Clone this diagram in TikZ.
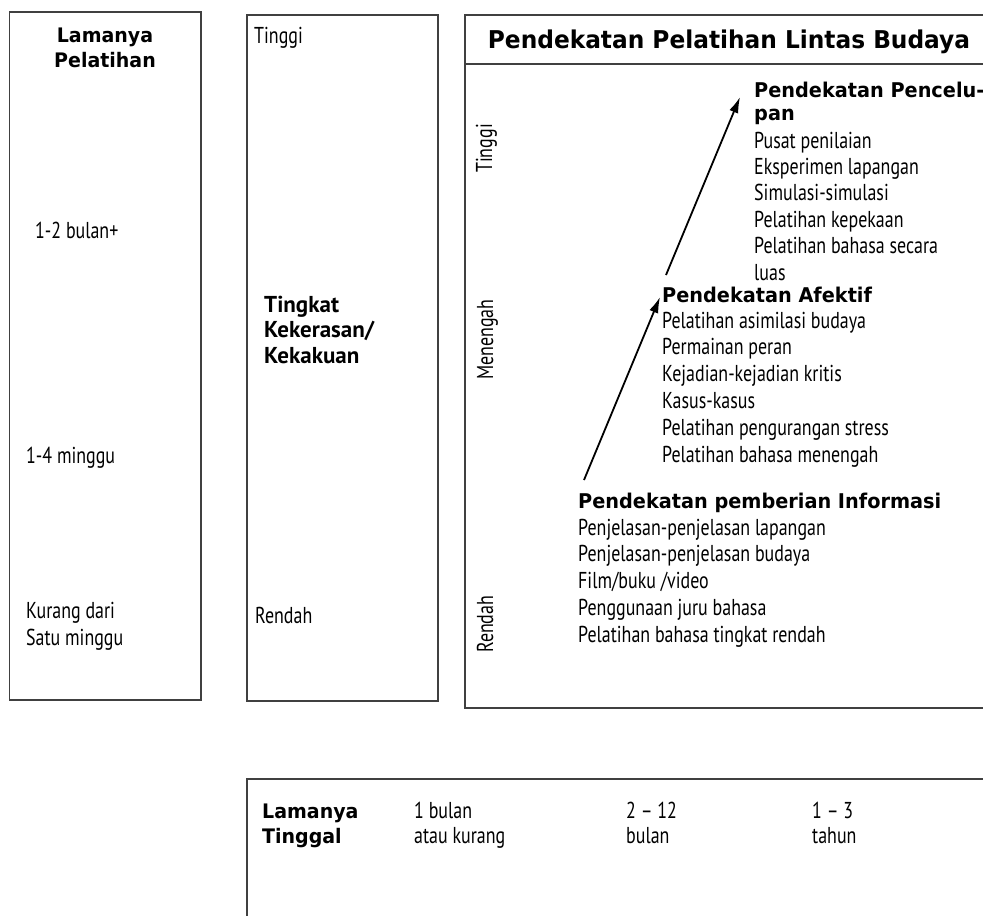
\documentclass[tikz,border=0pt]{standalone}
\usepackage{fontspec}
\setmainfont{PT Sans}
\newfontfamily\regf[FakeStretch=0.78]{PT Sans}
\newfontfamily\narb{PT Sans}
\newfontfamily\bldf[FakeStretch=0.95]{DejaVu Sans}
\usetikzlibrary{arrows.meta}

\tikzset{
  frame/.style={draw=black!75, line width=1.2pt},
  txt/.style={anchor=base west, inner sep=0pt, font=\regf\fontsize{23}{27}\selectfont},
  hd/.style={anchor=base west, inner sep=0pt, font=\bldf\bfseries\fontsize{20.3}{25}\selectfont},
  rigor/.style={anchor=base west, inner sep=0pt, font=\narb\bfseries\fontsize{23}{27}\selectfont},
  stayhd/.style={anchor=base west, inner sep=0pt, font=\bldf\bfseries\fontsize{20}{24}\selectfont},
  ttl/.style={anchor=base, inner sep=0pt, font=\bldf\bfseries\fontsize{24.5}{28}\selectfont},
  colhd/.style={ttl, font=\bldf\bfseries\fontsize{20}{24}\selectfont},
  vlabel/.style={txt, rotate=90},
  flow/.style={-{Latex[length=16pt,width=9.5pt]}, line width=1.8pt}
}

\begin{document}
\begin{tikzpicture}[x=1pt, y=-1pt]
  \useasboundingbox (0,0) rectangle (983,916);
  \clip (0,0) rectangle (983,916);

  % three columns
  \draw[frame] (9.5,12) rectangle (201,700);
  \draw[frame] (247,15) rectangle (438,701);
  \draw[frame] (465,15) rectangle (995,708);
  \draw[frame] (465,64) -- (995,64);
  % time in the country
  \draw[frame] (247,779) rectangle (995,930);

  % column 1: training length
  \node[colhd] (lp1) at (105,42) {Lamanya};
  \node[colhd] (lp2) at (105,67) {Pelatihan};
  \node[txt] (d1) at (35,238) {1-2 bulan+};
  \node[txt] (d2) at (26,463) {1-4 minggu};
  \node[txt] (d3) at (26,618) {Kurang dari};
  \node[txt] (d4) at (26,645) {Satu minggu};

  % column 2: rigor
  \node[txt] (hi) at (254,43) {Tinggi};
  \node[rigor] (r1) at (264,312) {Tingkat};
  \node[rigor] (r2) at (264,337.5) {Kekerasan/};
  \node[rigor] (r3) at (264,363) {Kekakuan};
  \node[txt] (lo) at (255,623) {Rendah};

  % column 3: approaches
  \node[ttl] (title) at (729,48) {Pendekatan Pelatihan Lintas Budaya};
  \node[vlabel] (vhi) at (492,173) {Tinggi};
  \node[vlabel] (vmid) at (493,380) {Menengah};
  \node[vlabel] (vlo) at (493,653) {Rendah};

  \node[hd] (imm) at (754,97) {Pendekatan Pencelu-};
  \node[hd] (imm2) at (754,120) {pan};
  \foreach \t [count=\i from 0] in {Pusat penilaian, Eksperimen lapangan,
      Simulasi-simulasi, Pelatihan kepekaan, Pelatihan bahasa secara, luas}
    \node[txt] (immi\i) at (754,148+26.4*\i) {\t};

  \node[hd] (aff) at (662,302) {Pendekatan Afektif};
  \foreach \t [count=\i from 0] in {Pelatihan asimilasi budaya, Permainan peran,
      Kejadian-kejadian kritis, Kasus-kasus, Pelatihan pengurangan stress,
      Pelatihan bahasa menengah}
    \node[txt] (affi\i) at (662,328+26.8*\i) {\t};

  \node[hd] (inf) at (578,508) {Pendekatan pemberian Informasi};
  \foreach \t [count=\i from 0] in {Penjelasan-penjelasan lapangan,
      Penjelasan-penjelasan budaya, Film/buku /video, Penggunaan juru bahasa,
      Pelatihan bahasa tingkat rendah}
    \node[txt] (infi\i) at (578,535+26.8*\i) {\t};

  % progression arrows
  \coordinate (a1s) at (584,480);
  \coordinate (a1e) at (660,297);
  \coordinate (a2s) at (666,275);
  \coordinate (a2e) at (740,97);
  \draw[flow] (a1s) -- (a1e);
  \draw[flow] (a2s) -- (a2e);

  % bottom row: length of stay
  \node[stayhd] (ls1) at (262,818) {Lamanya};
  \node[stayhd] (ls2) at (262,843) {Tinggal};
  \node[txt] (s1a) at (414,818) {1 bulan};
  \node[txt] (s1b) at (414,843) {atau kurang};
  \node[txt] (s2a) at (626,818) {2 – 12};
  \node[txt] (s2b) at (626,843) {bulan};
  \node[txt] (s3a) at (812,818) {1 – 3};
  \node[txt] (s3b) at (812,843) {tahun};
\end{tikzpicture}
\end{document}
